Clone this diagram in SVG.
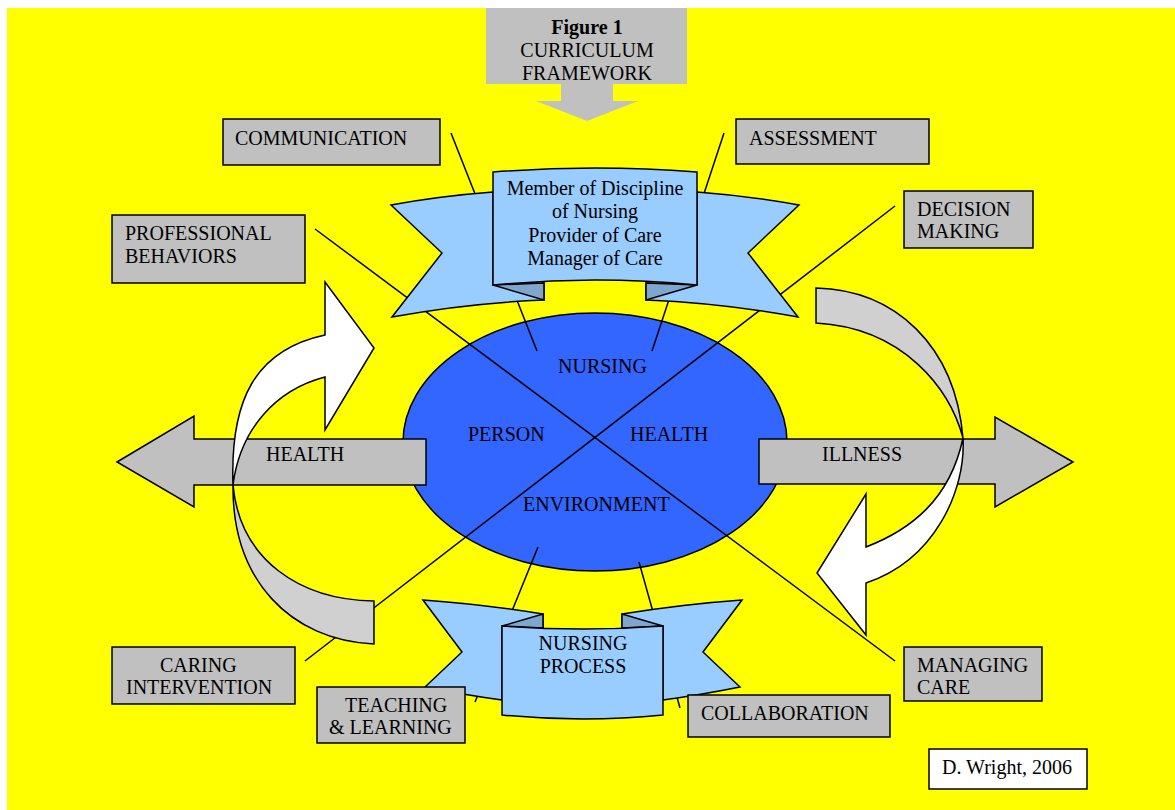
<svg xmlns="http://www.w3.org/2000/svg" width="1175" height="810" viewBox="0 0 1175 810">
<style>
text{font-family:"Liberation Serif","Times New Roman",serif;font-size:20px;fill:#000}
.box{fill:#c0c0c0;stroke:#000;stroke-width:1.5}
.rib{fill:#99ccff;stroke:#000;stroke-width:1.5;stroke-linejoin:miter}
.fold{fill:#7ea6cf;stroke:#000;stroke-width:1.5}
.ln{stroke:#000;stroke-width:1.5;fill:none}
.c{text-anchor:middle}
</style>
<rect x="0" y="0" width="1175" height="810" fill="#fff"/>
<rect x="7" y="8" width="1168" height="802" fill="#ffff00"/>

<g id="title">
<path d="M486,8 H687 V84 H613 V101 H638 L587,121 L536,101 H561 V84 H486 Z" fill="#c0c0c0"/>
<text x="587" y="34" class="c" font-weight="bold">Figure 1</text>
<text x="587" y="57" class="c">CURRICULUM</text>
<text x="587" y="80" class="c">FRAMEWORK</text>
</g>

<g id="core">
<ellipse cx="595" cy="442" rx="192" ry="129" fill="#3366ff" stroke="#000" stroke-width="1.5"/>
</g>

<g id="connectors">
<line class="ln" x1="315" y1="229" x2="895" y2="661"/>
<line class="ln" x1="895" y1="206" x2="305" y2="661"/>
<line class="ln" x1="451" y1="133" x2="537" y2="351"/>
<line class="ln" x1="724" y1="133" x2="652" y2="351"/>
<line class="ln" x1="538" y1="547" x2="475" y2="702"/>
<line class="ln" x1="639" y1="562" x2="680" y2="708"/>
</g>

<g id="core-labels">
<text x="558" y="373">NURSING</text>
<text x="468" y="441">PERSON</text>
<text x="630" y="441">HEALTH</text>
<text x="523" y="511">ENVIRONMENT</text>
</g>

<g id="roles">
<path class="rib" d="M544,283 L544,300 Q468,303 392,317 L442,253 L391,205 Q440,196 493,192 L493,285 Z"/>
<path class="fold" d="M493,285 L544,300 L544,283 Z"/>
<path class="rib" d="M646,283 L646,300 Q722,303 798,317 L748,253 L799,205 Q750,196 697,192 L697,285 Z"/>
<path class="fold" d="M697,285 L646,300 L646,283 Z"/>
<path class="rib" d="M493,172 Q595,164 697,172 L697,285 Q595,275 493,285 Z"/>
<text x="595" y="195" class="c">Member of Discipline</text>
<text x="595" y="218" class="c">of Nursing</text>
<text x="595" y="242" class="c">Provider of Care</text>
<text x="595" y="265" class="c">Manager of Care</text>
</g>

<g id="nursing-process">
<path class="rib" d="M543,628 L543,614 Q480,604 423,600 L462,652 L425,687 Q465,695 502,700 L502,626 Z"/>
<path class="fold" d="M502,626 L543,614 L543,628 Z"/>
<path class="rib" d="M622,628 L622,614 Q685,604 742,600 L703,652 L740,687 Q700,695 663,700 L663,626 Z"/>
<path class="fold" d="M663,626 L622,614 L622,628 Z"/>
<path class="rib" d="M502,626 Q583,632 663,626 L663,715 Q583,723 502,715 Z"/>
<text x="583" y="650" class="c">NURSING</text>
<text x="583" y="673" class="c">PROCESS</text>
</g>

<g id="health-arrow">
<path class="box" d="M117,462 L194,416 V439 H426 V485 H194 V507 Z"/>
<text x="266" y="461">HEALTH</text>
</g>

<g id="illness-arrow">
<path class="box" d="M1073,462 L995,417 V439 H759 V484 H995 V507 Z"/>
<text x="822" y="461">ILLNESS</text>
</g>

<g id="left-cycle">
<path d="M374,644 C290,640 232,580 233,485 C240,560 300,600 374,601 Z" fill="#d0d0d0" stroke="#000" stroke-width="1.5"/>
<path d="M325,282 L374,348 L325,430 L325,377 C275,390 240,430 233,485 C230,400 255,350 325,335 Z" fill="#fff" stroke="#000" stroke-width="1.5"/>
</g>

<g id="right-cycle">
<path d="M816,288 C895,290 955,345 963,438 C950,390 905,328 816,323 Z" fill="#d0d0d0" stroke="#000" stroke-width="1.5"/>
<path d="M866,494 L866,547 C910,530 950,500 963,438 C966,490 935,560 866,583 L866,635 L817,573 Z" fill="#fff" stroke="#000" stroke-width="1.5"/>
</g>

<g id="communication">
<rect class="box" x="223" y="119" width="217" height="46"/>
<text x="235" y="145">COMMUNICATION</text>
</g>
<g id="assessment">
<rect class="box" x="736" y="119" width="193" height="45"/>
<text x="749" y="145">ASSESSMENT</text>
</g>
<g id="professional-behaviors">
<rect class="box" x="112" y="215" width="193" height="68"/>
<text x="125" y="240">PROFESSIONAL</text>
<text x="125" y="263">BEHAVIORS</text>
</g>
<g id="decision-making">
<rect class="box" x="904" y="191" width="129" height="57"/>
<text x="917" y="216">DECISION</text>
<text x="917" y="238">MAKING</text>
</g>
<g id="caring-intervention">
<rect class="box" x="112" y="647" width="183" height="57"/>
<text x="160" y="672">CARING</text>
<text x="126" y="694">INTERVENTION</text>
</g>
<g id="teaching-learning">
<rect class="box" x="317" y="687" width="148" height="56"/>
<text x="345" y="712">TEACHING</text>
<text x="329" y="734">&amp; LEARNING</text>
</g>
<g id="collaboration">
<rect class="box" x="688" y="695" width="202" height="42"/>
<text x="701" y="720">COLLABORATION</text>
</g>
<g id="managing-care">
<rect class="box" x="904" y="647" width="138" height="54"/>
<text x="917" y="672">MANAGING</text>
<text x="917" y="694">CARE</text>
</g>
<g id="credit">
<rect x="929" y="749" width="158" height="40" fill="#fff" stroke="#000" stroke-width="1.5"/>
<text x="942" y="774">D. Wright, 2006</text>
</g>
</svg>
